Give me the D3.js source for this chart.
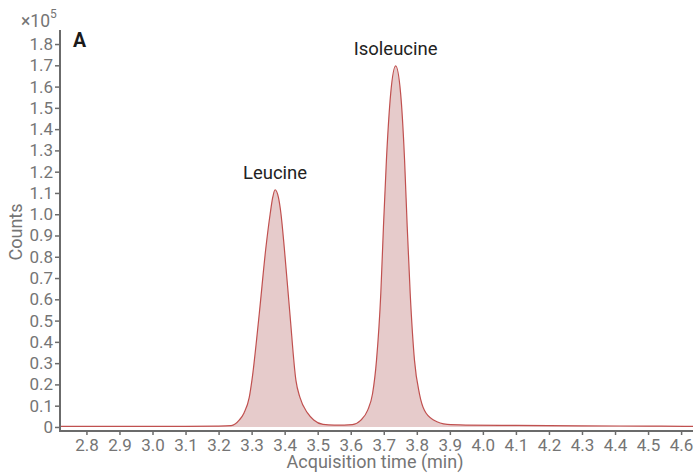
<!DOCTYPE html>
<html>
<head>
<meta charset="utf-8">
<script src="https://cdn.jsdelivr.net/npm/d3@7"></script>
<style>
  body { margin: 0; background: #fff; }
  text { font-family: Roboto, "DejaVu Sans", sans-serif; }
</style>
</head>
<body>
<div id="chart"></div>
<script>
// chromatogram (time in min, counts in x10^5)
var times = [2.72, 2.9, 3.0, 3.1, 3.2, 3.238, 3.263, 3.277, 3.293, 3.301, 3.323, 3.343, 3.356, 3.364, 3.371,
  3.381, 3.389, 3.399, 3.416, 3.434, 3.446, 3.469, 3.488, 3.516, 3.55, 3.58, 3.605, 3.630, 3.651, 3.666,
  3.678, 3.691, 3.699, 3.708, 3.721, 3.736, 3.751, 3.763, 3.771, 3.780, 3.793, 3.808, 3.823, 3.852, 3.892,
  3.95, 4.1, 4.3, 4.5, 4.636];
var counts = [0.003, 0.003, 0.003, 0.003, 0.004, 0.006, 0.033, 0.066, 0.14, 0.22, 0.53, 0.84, 1.0, 1.08, 1.115,
  1.08, 1.0, 0.84, 0.53, 0.22, 0.14, 0.066, 0.033, 0.012, 0.009, 0.009, 0.011, 0.031, 0.078, 0.156,
  0.313, 0.627, 0.94, 1.254, 1.568, 1.697, 1.568, 1.254, 0.94, 0.627, 0.313, 0.156, 0.078, 0.031, 0.012,
  0.009, 0.007, 0.005, 0.004, 0.003];
var xTicks = [2.8, 2.9, 3.0, 3.1, 3.2, 3.3, 3.4, 3.5, 3.6, 3.7, 3.8, 3.9, 4.0, 4.1, 4.2, 4.3, 4.4, 4.5, 4.6];
var yTicks = [0, 0.1, 0.2, 0.3, 0.4, 0.5, 0.6, 0.7, 0.8, 0.9, 1.0, 1.1, 1.2, 1.3, 1.4, 1.5, 1.6, 1.7, 1.8];
var peakNames = ["Leucine", "Isoleucine"];
var peakTimes = [3.371, 3.736];
var peakCounts = [1.115, 1.697];

var W = 696, H = 474;
var svg = d3.select("#chart").append("svg").attr("width", W).attr("height", H);

var x = d3.scaleLinear().domain([2.72, 4.636]).range([60, 693]);
var y = d3.scaleLinear().domain([-0.019, 1.866]).range([431, 30]);

var data = times.map(function(t, i) { return {t: t, c: counts[i]}; });

var area = d3.area()
    .x(function(d) { return x(d.t); })
    .y0(y(0))
    .y1(function(d) { return y(d.c); })
    .curve(d3.curveMonotoneX);
var line = d3.line()
    .x(function(d) { return x(d.t); })
    .y(function(d) { return y(d.c); })
    .curve(d3.curveMonotoneX);

svg.append("path").datum(data).attr("d", area).attr("fill", "#e6cbcb");
svg.append("path").datum(data).attr("d", line)
    .attr("fill", "none").attr("stroke", "#c0504f").attr("stroke-width", 1.2);

// axes
var xAxis = d3.axisBottom(x).tickValues(xTicks).tickFormat(d3.format(".1f")).tickSize(4).tickPadding(4);
var gx = svg.append("g").attr("transform", "translate(0,431)").call(xAxis);
var yAxis = d3.axisLeft(y).tickValues(yTicks)
    .tickFormat(function(d) { return d === 0 ? "0" : d3.format(".1f")(d); })
    .tickSize(5).tickPadding(2);
var gy = svg.append("g").attr("transform", "translate(60,0)").call(yAxis);

[gx, gy].forEach(function(g) {
  g.select(".domain").attr("stroke", "#6b6b6b").attr("stroke-width", 2);
  g.selectAll(".tick line").attr("stroke", "#6b6b6b").attr("stroke-width", 1.5);
  g.selectAll(".tick text").attr("fill", "#757575").style("font-size", "17px")
    .style("font-family", "Roboto, sans-serif");
});
gx.select(".domain").attr("d", "M59,0H693");
gy.select(".domain").attr("d", "M0,30V432");

// axis titles
svg.append("text").attr("x", 375).attr("y", 468)
  .attr("text-anchor", "middle").attr("fill", "#757575").style("font-size", "18px")
  .text("Acquisition time (min)");
svg.append("text").attr("transform", "translate(22,232) rotate(-90)")
  .attr("text-anchor", "middle").attr("fill", "#757575").style("font-size", "18px")
  .text("Counts");

var mult = svg.append("text").attr("x", 21).attr("y", 27).attr("fill", "#757575").style("font-size", "17.5px");
mult.append("tspan").text("×10");
mult.append("tspan").attr("dy", -9).style("font-size", "12px").text("5");

svg.append("text").attr("x", 73).attr("y", 47).attr("fill", "#1a1a1a")
  .style("font-size", "19.5px").style("font-weight", "bold").text("A");

// peak labels
svg.selectAll(".peak").data(peakNames).enter().append("text")
  .attr("class", "peak")
  .attr("x", function(d, i) { return x(peakTimes[i]); })
  .attr("y", function(d, i) { return y(peakCounts[i]) - 11; })
  .attr("text-anchor", "middle").attr("fill", "#222").style("font-size", "18.5px")
  .text(function(d) { return d; });
</script>
</body>
</html>
